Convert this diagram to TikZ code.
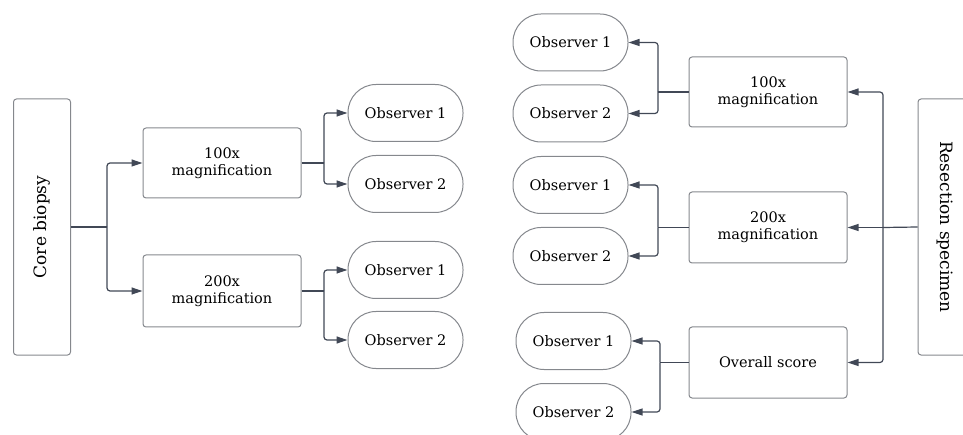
\documentclass[tikz,border=0pt]{standalone}
\usepackage{fontspec}
\setmainfont{DejaVu Serif}
\usetikzlibrary{arrows.meta}
\definecolor{edge}{HTML}{85888D}
\definecolor{wire}{HTML}{414856}
\tikzset{
  box/.style={draw=edge, line width=1pt, rounded corners=3pt, minimum width=158pt,
    minimum height=70pt, align=center, font=\fontsize{14.5}{17}\selectfont, inner sep=0pt},
  pill/.style={draw=edge, line width=1pt, rounded corners=28pt, minimum width=115pt,
    minimum height=57pt, font=\fontsize{14.5}{17}\selectfont, inner sep=0pt},
  tall/.style={draw=edge, line width=1pt, rounded corners=3pt, minimum width=256pt,
    minimum height=57pt, font=\fontsize{17}{20}\selectfont, inner sep=0pt},
  conn/.style={draw=wire, line width=1.2pt, rounded corners=3pt,
    -{Triangle[length=11pt,width=7pt]}},
  link/.style={draw=wire, line width=1.2pt}
}
\begin{document}
\begin{tikzpicture}[x=1pt,y=-1pt]
\useasboundingbox (0,0) rectangle (963,435);
\clip (0,0) rectangle (963,435);

% core biopsy branch
\node[tall, rotate=90] (core) at (42,227) {Core biopsy};
\node[box] (m100L) at (222,163) {100x\\magnification};
\node[box, minimum height=72pt] (m200L) at (222,291) {200x\\magnification};
\node[pill] (o1a) at (405.5,113) {Observer 1};
\node[pill] (o2a) at (405.5,184) {Observer 2};
\node[pill] (o1b) at (405.5,270) {Observer 1};
\node[pill] (o2b) at (405.5,340) {Observer 2};

\coordinate (jc) at (107,227);
\coordinate (ja) at (324,163);
\coordinate (jb) at (324,291);
\draw[link] (core.south) -- (jc);
\draw[conn] (jc) |- (m100L.west);
\draw[conn] (jc) |- (m200L.west);
\draw[link] (m100L.east) -- (ja);
\draw[conn] (ja) |- (o1a.west);
\draw[conn] (ja) |- (o2a.west);
\draw[link] (m200L.east) -- (jb);
\draw[conn] (jb) |- (o1b.west);
\draw[conn] (jb) |- (o2b.west);

% resection specimen branch
\node[tall, minimum height=54pt, rotate=-90] (res) at (945,227) {Resection specimen};
\node[box] (m100R) at (768,92) {100x\\magnification};
\node[box, minimum height=71pt] (m200R) at (768,227.5) {200x\\magnification};
\node[box, minimum height=71pt] (ovR) at (768,362.5) {Overall score};
\node[pill] (r1a) at (570.5,42.5) {Observer 1};
\node[pill] (r2a) at (570.5,113.5) {Observer 2};
\node[pill] (r1b) at (570.5,185) {Observer 1};
\node[pill] (r2b) at (570.5,256) {Observer 2};
\node[pill] (r1c) at (573.5,341) {Observer 1};
\node[pill] (r2c) at (573.5,412) {Observer 2};

\coordinate (jr) at (883,227.5);
\coordinate (jra) at (658,92);
\coordinate (jrb) at (658,227.5);
\coordinate (jrc) at (660,362.5);
\draw[link] (res.south) -- (jr);
\draw[conn] (jr) |- (m100R.east);
\draw[conn] (jr) -- (m200R.east);
\draw[conn] (jr) |- (ovR.east);
\draw[link] (m100R.west) -- (jra);
\draw[conn] (jra) |- (r1a.east);
\draw[conn] (jra) |- (r2a.east);
\draw[link] (m200R.west) -- (jrb);
\draw[conn] (jrb) |- (r1b.east);
\draw[conn] (jrb) |- (r2b.east);
\draw[link] (ovR.west) -- (jrc);
\draw[conn] (jrc) |- (r1c.east);
\draw[conn] (jrc) |- (r2c.east);
\end{tikzpicture}
\end{document}
